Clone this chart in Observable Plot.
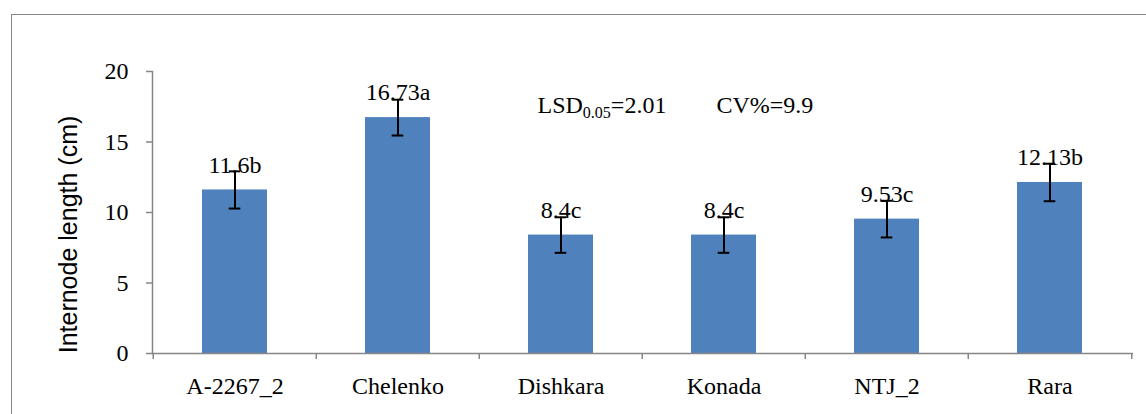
<!DOCTYPE html>
<html>
<head>
<meta charset="utf-8">
<script src="https://cdn.jsdelivr.net/npm/d3@7"></script>
<script src="https://cdn.jsdelivr.net/npm/@observablehq/plot@0.6"></script>
<style>
  html, body { margin: 0; padding: 0; background: #fff; }
  #wrap { position: relative; width: 1146px; height: 414px; overflow: hidden; }
  #border { position: absolute; left: 11px; top: 14px; width: 1200px; height: 500px;
            border-left: 1.5px solid #868686; border-top: 1.5px solid #868686; box-sizing: border-box; }
  #chart { position: absolute; left: 0; top: 0; font-family: 'Liberation Serif', serif; }
  #chart svg text, #chart svg tspan { font-family: 'Liberation Serif', serif; }
  #chart svg text.ytitle { font-family: 'Liberation Sans', Arial, sans-serif !important; }
</style>
</head>
<body>
<div id="wrap"><div id="border"></div><div id="chart"></div></div>
<script>
const categories = ["A-2267_2", "Chelenko", "Dishkara", "Konada", "NTJ_2", "Rara"];
const values = [11.6, 16.73, 8.4, 8.4, 9.53, 12.13];
const errors = [1.32, 1.27, 1.26, 1.26, 1.3, 1.33];
const letters = ["b", "a", "c", "c", "c", "b"];
const yTicks = [0, 5, 10, 15, 20];
const yTitle = "Internode length (cm)";

const data = categories.map((c, i) => ({
  cat: c, value: values[i], err: errors[i],
  label: String(values[i]) + letters[i]
}));

const W = 1146, H = 414;
const mL = 152, mR = 13, mT = 71, mB = 61;
const bw = (W - mL - mR) / categories.length;
const capW = 12;
const capInset = (bw * 0.4 - capW) / 2;
const axisGray = "#868686";
const SERIF = "'Liberation Serif', serif";
const SANS = "'Liberation Sans', Arial, sans-serif";

const plot = Plot.plot({
  className: "internode-chart",
  width: W, height: H,
  marginLeft: mL, marginRight: mR, marginTop: mT, marginBottom: mB,
  style: { background: "transparent", color: "black", fontFamily: SERIF },
  x: { type: "band", domain: categories, padding: 0.6, paddingOuter: 0.3, align: 0.5, axis: null },
  y: { domain: [0, 20], axis: null },
  marks: [
    Plot.barY(data, { x: "cat", y: "value", fill: "#4F81BD" }),
    Plot.ruleX(data, { x: "cat", y1: d => d.value - d.err, y2: d => d.value + d.err, stroke: "black", strokeWidth: 2 }),
    Plot.tickY(data, { x: "cat", y: d => d.value + d.err, stroke: "black", strokeWidth: 2, insetLeft: capInset, insetRight: capInset }),
    Plot.tickY(data, { x: "cat", y: d => d.value - d.err, stroke: "black", strokeWidth: 2, insetLeft: capInset, insetRight: capInset }),
    Plot.text(data, { x: "cat", y: "value", text: "label", dy: -25, fill: "black", fontFamily: SERIF, fontSize: 24 }),
    // y axis
    Plot.frame({ anchor: "left", stroke: axisGray, strokeWidth: 1.5 }),
    Plot.axisY({ ticks: yTicks, label: null, tickSize: 6, tickPadding: 18, stroke: axisGray, strokeWidth: 1.5, fill: "black", fontFamily: SERIF, fontSize: 24, tickFormat: d => String(d) }),
    // x axis line
    Plot.ruleY([0], { stroke: axisGray, strokeWidth: 1.5 }),
    // category boundary ticks
    Plot.axisX({ label: null, tickSize: 6, text: null, dx: -bw / 2, stroke: axisGray, strokeWidth: 1.5 }),
    Plot.axisX({ label: null, ticks: [categories[categories.length - 1]], tickSize: 6, text: null, dx: bw / 2, stroke: axisGray, strokeWidth: 1.5 }),
    Plot.axisX({ label: null, tickSize: 0, tickPadding: 23, fill: "black", fontFamily: SERIF, fontSize: 24 }),
    // y title
    Plot.text([yTitle], { frameAnchor: "left", textAnchor: "middle", rotate: -90, dx: -84, dy: 22, fill: "black", fontFamily: SANS, fontSize: 25 }),
    // annotation (subscript added below)
    Plot.text(["LSD"], { frameAnchor: "top-left", dx: 385, dy: 41, textAnchor: "start", lineAnchor: "bottom", fill: "black", fontFamily: SERIF, fontSize: 24 })
  ]
});

const svg = d3.select(plot);
svg.selectAll("text").each(function () {
  this.setAttribute("font-family", "Liberation Serif");
  this.style.setProperty("font-family", SERIF, "important");
});
svg.selectAll("text").filter(function () { return this.textContent === yTitle; }).each(function () {
  this.setAttribute("class", "ytitle");
  this.setAttribute("font-family", "Liberation Sans");
  this.style.setProperty("font-family", SANS, "important");
});

svg.selectAll("text").filter(function () { return this.textContent === "LSD"; }).each(function () {
  const t = d3.select(this);
  t.text(null);
  t.append("tspan").text("LSD");
  t.append("tspan").attr("font-size", 16).attr("dy", 5).text("0.05");
  t.append("tspan").attr("dy", -5).text("=2.01");
  t.append("tspan").attr("dx", 50).text("CV%=9.9");
});

document.getElementById("chart").appendChild(plot);
</script>
</body>
</html>
